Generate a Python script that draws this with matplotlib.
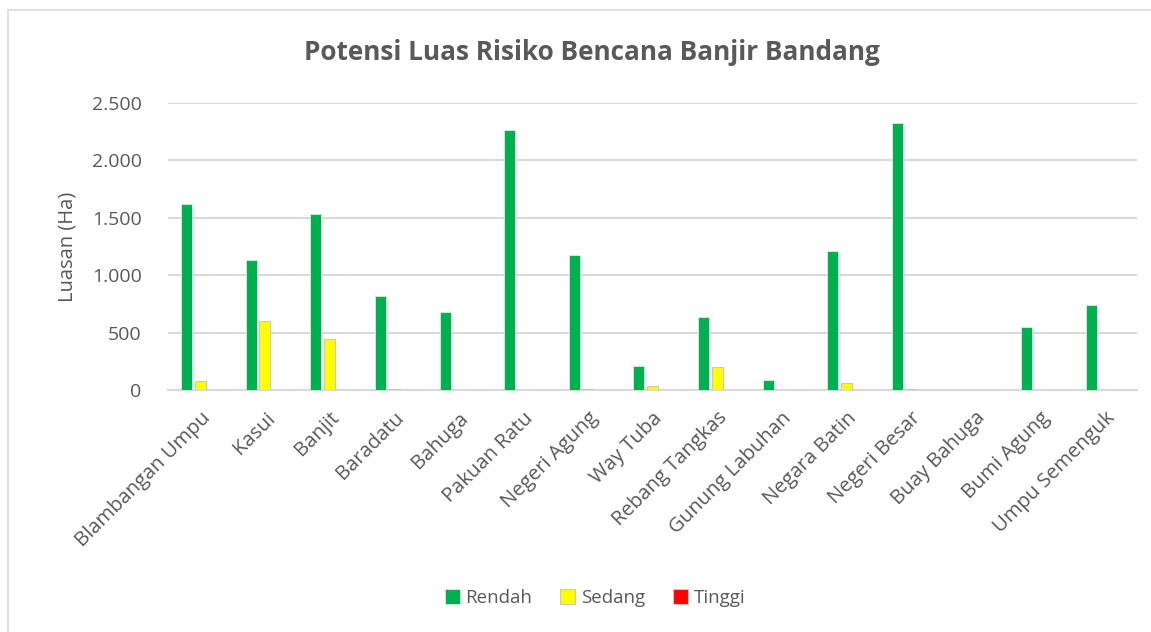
import matplotlib
matplotlib.use("Agg")
import matplotlib.pyplot as plt
import numpy as np
from matplotlib.patches import Rectangle

categories = ["Blambangan Umpu", "Kasui", "Banjit", "Baradatu", "Bahuga",
              "Pakuan Ratu", "Negeri Agung", "Way Tuba", "Rebang Tangkas",
              "Gunung Labuhan", "Negara Batin", "Negeri Besar", "Buay Bahuga",
              "Bumi Agung", "Umpu Semenguk"]
rendah = [1623, 1130, 1533, 816, 682, 2264, 1177, 210, 635, 87, 1209, 2322, 0, 548, 737]
sedang = [79, 597, 440, 10, 0, 0, 10, 38, 201, 0, 58, 10, 0, 0, 0]
tinggi = [0] * 15
yticks = [0, 500, 1000, 1500, 2000, 2500]
ytick_labels = ["0", "500", "1.000", "1.500", "2.000", "2.500"]

plt.rcParams['font.family'] = ['Open Sans', 'DejaVu Sans']
txt = '#595959'

fig = plt.figure(figsize=(11.51, 6.32), dpi=100)
ax = fig.add_axes([168/1151, 1-390/632, (1137-168)/1151, (390-103)/632])

# chart area border
fig.patches.append(Rectangle((8/1151, -0.1), 1.2, (632-10)/632 + 0.1,
                             transform=fig.transFigure, fill=False,
                             edgecolor='#d9d9d9', linewidth=1.2))

x = np.arange(len(categories))
w = 0.17
off = 0.21
ax.bar(x - off, rendah, w, color='#00b050', edgecolor='#e8f5e8', linewidth=0.5, label='Rendah', zorder=3)
ax.bar(x, sedang, w, color='#ffff00', edgecolor='#c8c8c8', linewidth=0.8, label='Sedang', zorder=3)
ax.bar(x + off, tinggi, w, color='#ff0000', edgecolor='#c8c8c8', linewidth=0.8, label='Tinggi', zorder=3)

ax.set_xlim(-0.5, len(categories) - 0.5)
ax.set_ylim(0, 2500)
ax.set_yticks(yticks)
ax.set_yticklabels(ytick_labels, color=txt, fontsize=14)
ax.set_xticks(x)
ax.set_xticklabels(categories, rotation=45, ha='right', rotation_mode='anchor',
                   color=txt, fontsize=14.6)
ax.tick_params(axis='both', length=0)
ax.tick_params(axis='y', pad=19)
ax.tick_params(axis='x', pad=13)
ax.grid(axis='y', color='#d9d9d9', linewidth=1.5, zorder=0)
for s in ['top', 'right', 'left']:
    ax.spines[s].set_visible(False)
ax.spines['bottom'].set_color('#d9d9d9')
ax.spines['bottom'].set_linewidth(1.5)

ax.set_ylabel("Luasan (Ha)", color=txt, fontsize=14.5, labelpad=10)
fig.text(592/1151, 1-52/632, "Potensi Luas Risiko Bencana Banjir Bandang",
         ha='center', va='center', fontsize=18.8, fontweight='bold', color=txt)

leg = fig.legend(loc='center', bbox_to_anchor=(595/1151, 1-598/632), ncol=3,
                 frameon=False, fontsize=13.5, handlelength=0.8, handleheight=0.8,
                 handletextpad=0.3, columnspacing=1.5, labelcolor=txt)

fig.savefig("out.png", dpi=100, facecolor='white')
